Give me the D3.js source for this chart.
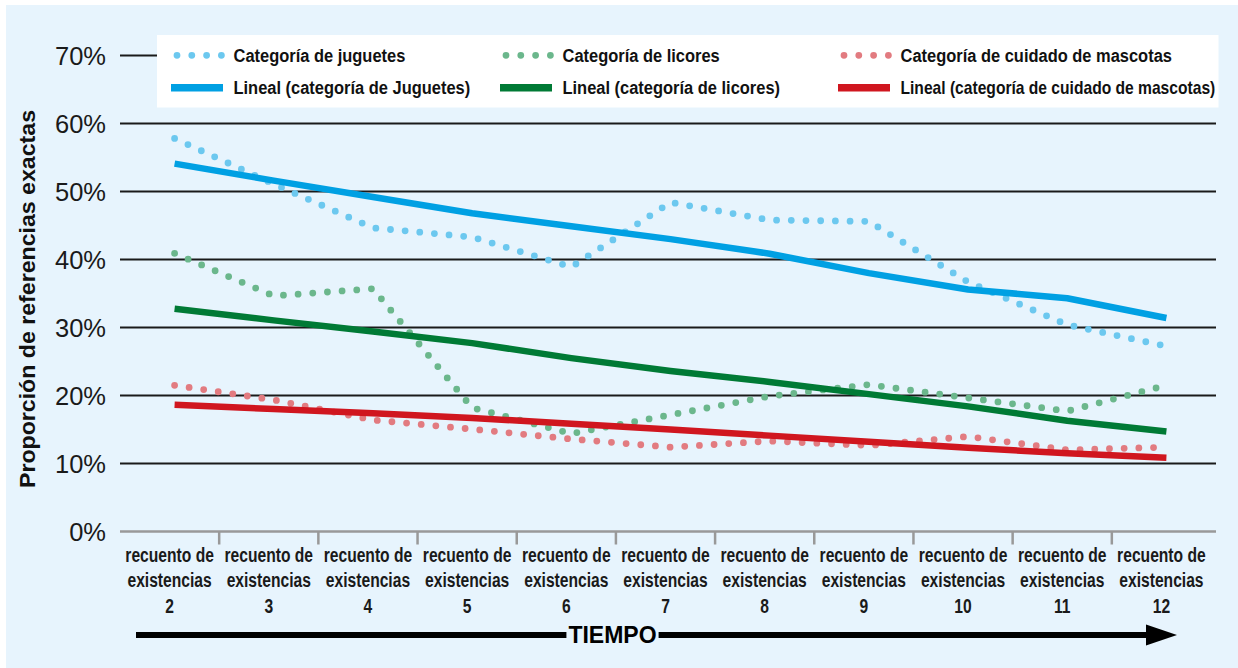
<!DOCTYPE html>
<html>
<head>
<meta charset="utf-8">
<script src="https://cdn.jsdelivr.net/npm/d3@7"></script>
<style>
  html, body { margin: 0; padding: 0; background: #ffffff; }
  svg { display: block; }
</style>
</head>
<body>
<svg id="chart" width="1238" height="668"></svg>
<script>
// ---------------- DATA ----------------
const categories = ["2", "3", "4", "5", "6", "7", "8", "9", "10", "11", "12"];
const categoryPrefix = ["recuento de", "existencias"];
const yTicks = [0, 10, 20, 30, 40, 50, 60, 70];

// dotted (actual) series, % of exact references
const juguetes = [57.8, 51.1, 44.65, 43.3, 38.9, 48.4, 45.8, 45.6, 36.7, 30.4, 27.25];
const licores  = [40.9, 34.65, 35.7, 18.2, 14.4, 17.15, 19.9, 21.6, 19.65, 17.7, 21.5];
const mascotas = [21.5, 19.35, 16.4, 15.05, 13.6, 12.4, 13.3, 12.65, 13.97, 12.0, 12.4];

// "Lineal" trend series
const juguetesTrend = [54.1, 51.6, 49.2, 46.8, 44.9, 43.0, 40.85, 38.0, 35.6, 34.3, 31.4];
const licoresTrend  = [32.75, 31.05, 29.4, 27.7, 25.5, 23.6, 22.0, 20.2, 18.4, 16.3, 14.7];
const mascotasTrend = [18.65, 18.0, 17.4, 16.7, 15.85, 15.0, 14.1, 13.2, 12.3, 11.5, 10.85];

const legendLabels = [
  "Categoría de juguetes", "Categoría de licores", "Categoría de cuidado de mascotas",
  "Lineal (categoría de Juguetes)", "Lineal (categoría de licores)", "Lineal (categoría de cuidado de mascotas)"
];
const yTitle = "Proporción de referencias exactas";
const xTitle = "TIEMPO";

// ---------------- STYLE ----------------
const COL = {
  bg: "#e7f4fd",
  blueDot: "#6cc8ef", blueLine: "#00a0e3",
  greenDot: "#6bb78c", greenLine: "#007a35",
  redDot: "#e27b80", redLine: "#d0161f"
};
const sans = "'Liberation Sans', Arial, Helvetica, sans-serif";

const dotted = [
  { values: juguetes, color: COL.blueDot },
  { values: licores,  color: COL.greenDot },
  { values: mascotas, color: COL.redDot }
];
const trends = [
  { values: juguetesTrend, color: COL.blueLine },
  { values: licoresTrend,  color: COL.greenLine },
  { values: mascotasTrend, color: COL.redLine }
];

// ---------------- LAYOUT ----------------
const svg = d3.select("#chart");
const W = 1238, H = 668;
const plotLeft = 120, bandRight = 1211, gridRight = 1216;

svg.append("rect").attr("x", 6).attr("y", 5).attr("width", W - 6).attr("height", H - 5).attr("fill", COL.bg);

const y = d3.scaleLinear().domain([0, 70]).range([531.5, 55.5]);
const xb = d3.scaleBand().domain(categories).range([plotLeft, bandRight]);
const xc = c => xb(c) + xb.bandwidth() / 2;
// series drawn slightly right of category centres, as in the original
const xs = d3.scaleLinear().domain([0, categories.length - 1])
  .range([xc(categories[0]) + 5, xc(categories[categories.length - 1]) + 5]);

// gridlines
svg.append("g").selectAll("line").data(yTicks.filter(d => d > 0)).join("line")
  .attr("x1", plotLeft).attr("x2", gridRight)
  .attr("y1", d => y(d)).attr("y2", d => y(d))
  .attr("stroke", "#1a1a1a").attr("stroke-width", 2);

// x axis baseline + ticks
svg.append("line").attr("x1", plotLeft).attr("x2", gridRight)
  .attr("y1", y(0)).attr("y2", y(0)).attr("stroke", "#999").attr("stroke-width", 2.5);
svg.append("g").selectAll("line").data(categories.slice(1)).join("line")
  .attr("x1", d => xb(d)).attr("x2", d => xb(d))
  .attr("y1", y(0)).attr("y2", y(0) + 13)
  .attr("stroke", "#999").attr("stroke-width", 2.5);

// y tick labels
svg.append("g").selectAll("text").data(yTicks).join("text")
  .attr("x", 106).attr("y", d => y(d)).attr("dy", "0.36em")
  .attr("text-anchor", "end")
  .attr("font-family", sans).attr("font-size", 25.5).attr("fill", "#1a1a1a")
  .text(d => d + "%");

// y title
svg.append("text")
  .attr("transform", "translate(35,299) rotate(-90)")
  .attr("text-anchor", "middle")
  .attr("font-family", sans).attr("font-weight", "bold").attr("font-size", 22).attr("fill", "#111")
  .attr("textLength", 378).attr("lengthAdjust", "spacingAndGlyphs")
  .text(yTitle);

// x labels (condensed bold: horizontally compressed Liberation Sans Bold)
const condX = 0.77;
const xl = svg.append("g").selectAll("g").data(categories).join("g")
  .attr("transform", d => `translate(${xc(d)},0) scale(${condX},1)`)
  .append("text")
  .attr("text-anchor", "middle")
  .attr("font-family", sans).attr("font-weight", "bold").attr("font-size", 20.3).attr("fill", "#1a1a1a");
xl.append("tspan").attr("x", 0).attr("y", 562).text(categoryPrefix[0]);
xl.append("tspan").attr("x", 0).attr("y", 587.5).text(categoryPrefix[1]);
xl.append("tspan").attr("x", 0).attr("y", 613).text(d => d);

// dotted series
const line = d3.line().x((d, i) => xs(i)).y(d => y(d));
svg.append("g").selectAll("path").data(dotted).join("path")
  .attr("d", d => line(d.values))
  .attr("fill", "none").attr("stroke", d => d.color)
  .attr("stroke-width", 6.8).attr("stroke-linecap", "round")
  .attr("stroke-dasharray", "0 14.7");

// trend lines
svg.append("g").selectAll("path").data(trends).join("path")
  .attr("d", d => line(d.values))
  .attr("fill", "none").attr("stroke", d => d.color)
  .attr("stroke-width", 6.5).attr("stroke-linejoin", "round");

// legend
const legBox = { x: 157, y: 35, w: 1061.5, h: 72.5 };
svg.append("rect").attr("x", legBox.x).attr("y", legBox.y).attr("width", legBox.w).attr("height", legBox.h).attr("fill", "#ffffff");
const legCols = [171, 500, 838], legRows = [55.3, 87.7], legTextOff = 62.5;
const legItems = legendLabels.map((label, i) => ({
  label, row: Math.floor(i / 3), col: i % 3,
  color: i < 3 ? dotted[i].color : trends[i - 3].color
}));
const lg = svg.append("g").selectAll("g").data(legItems).join("g")
  .attr("transform", d => `translate(${legCols[d.col]},${legRows[d.row]})`);
lg.filter(d => d.row === 0).append("line")
  .attr("x1", 6).attr("x2", 51).attr("y1", 0).attr("y2", 0)
  .attr("stroke", d => d.color).attr("stroke-width", 6.8).attr("stroke-linecap", "round")
  .attr("stroke-dasharray", "0 14.8");
lg.filter(d => d.row === 1).append("line")
  .attr("x1", 0).attr("x2", 52).attr("y1", 0).attr("y2", 0)
  .attr("stroke", d => d.color).attr("stroke-width", 7.5);
const legCond = 0.885;
lg.append("text").attr("x", 0).attr("y", 0).attr("dy", "0.35em")
  .attr("font-family", sans).attr("font-weight", "bold").attr("font-size", 18.6).attr("fill", "#111")
  .text(d => d.label)
  .attr("transform", function (d) {
    const natural = this.getComputedTextLength();
    const avail = legBox.x + legBox.w - 3 - (legCols[d.col] + legTextOff);
    const s = Math.min(legCond, avail / natural);
    return `translate(${legTextOff},0) scale(${s},1)`;
  });

// time arrow
const tx = 612.5, ty = 635;
const tt = svg.append("text").attr("x", tx).attr("y", ty + 8)
  .attr("text-anchor", "middle")
  .attr("font-family", sans).attr("font-weight", "bold").attr("font-size", 23).attr("fill", "#000")
  .text(xTitle);
const bb = tt.node().getBBox();
svg.append("line").attr("x1", 136).attr("x2", bb.x - 2).attr("y1", ty).attr("y2", ty)
  .attr("stroke", "#000").attr("stroke-width", 6);
svg.append("line").attr("x1", bb.x + bb.width + 2).attr("x2", 1150).attr("y1", ty).attr("y2", ty)
  .attr("stroke", "#000").attr("stroke-width", 6);
svg.append("path").attr("d", d3.line()([[1146, ty - 10.5], [1177, ty], [1146, ty + 10.5]]) + "Z")
  .attr("fill", "#000");
</script>
</body>
</html>
